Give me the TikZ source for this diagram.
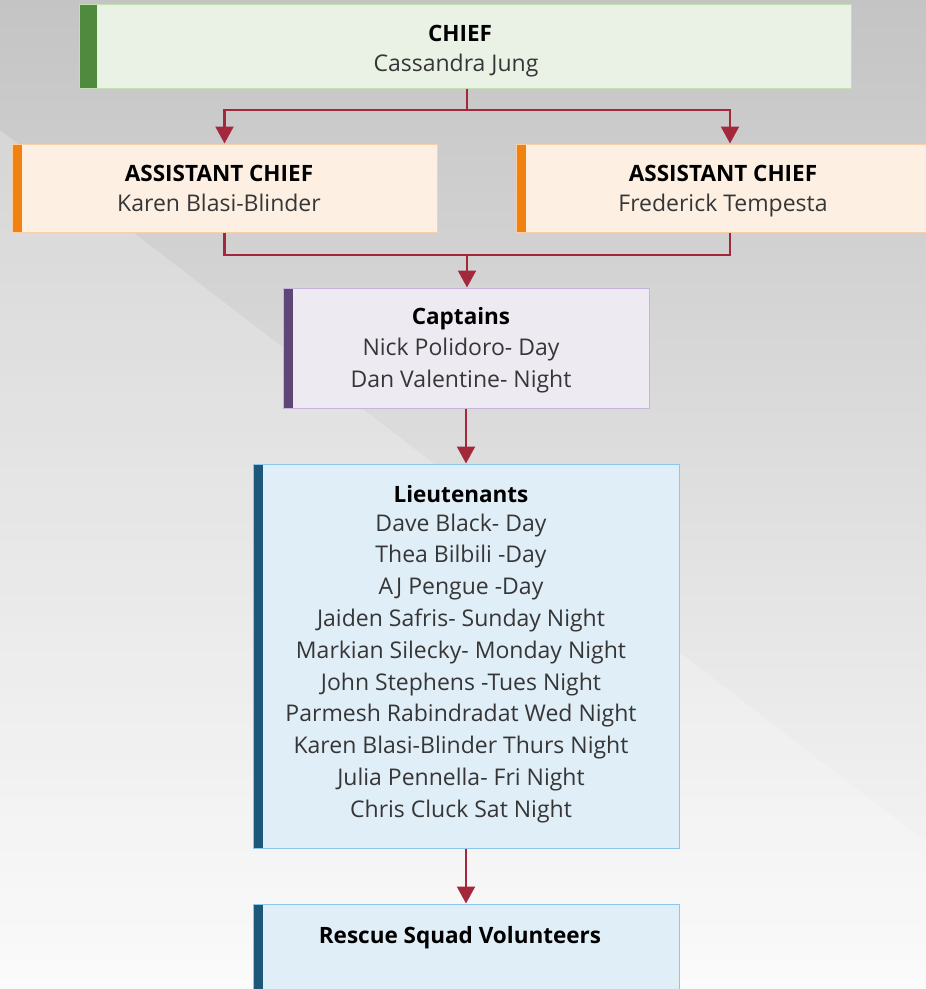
\documentclass[tikz,border=0pt]{standalone}
\usepackage{fontspec}
\setmainfont{Open Sans}
\usetikzlibrary{arrows.meta}
\definecolor{lnred}{HTML}{A3283B}
\definecolor{chieffill}{HTML}{EAF2E6}
\definecolor{chiefdraw}{HTML}{C3DFB0}
\definecolor{chiefbar}{HTML}{4F8A3E}
\definecolor{asfill}{HTML}{FDF0E3}
\definecolor{asdraw}{HTML}{F8CFA8}
\definecolor{asbar}{HTML}{F2820F}
\definecolor{capfill}{HTML}{EEEAF2}
\definecolor{capdraw}{HTML}{C6B4DA}
\definecolor{capbar}{HTML}{5E4676}
\definecolor{ltfill}{HTML}{E0EEF8}
\definecolor{ltdraw}{HTML}{8CC6EC}
\definecolor{ltbar}{HTML}{1D5779}
\definecolor{nametext}{HTML}{363636}
\begin{document}
\begin{tikzpicture}[x=1pt,y=-1pt,
  box/.style={rectangle, draw=#1draw, fill=#1fill, line width=1pt, inner sep=0pt,
    path picture={\fill[#1bar] (path picture bounding box.south west) rectangle ([xshift=10pt]path picture bounding box.north west);}},
  wide/.style={path picture={\fill[#1bar] (path picture bounding box.south west) rectangle ([xshift=18pt]path picture bounding box.north west);}},
  conn/.style={draw=lnred, line width=2.2pt},
  arr/.style={conn, -{Triangle[length=17pt,width=18pt]}},
  ttl/.style={font=\fontsize{22.5}{32}\bfseries\selectfont, text=black, text height=16pt, text depth=6pt},
  nm/.style={font=\fontsize{23}{32}\selectfont, text=nametext, align=center},
  one/.style={text height=16pt, text depth=6pt}
]
\useasboundingbox (0,0) rectangle (926,989);
\shade[top color={rgb,255:red,196;green,196;blue,196}, bottom color={rgb,255:red,250;green,250;blue,250}] (0,0) rectangle (926,989);
\fill[white, opacity=0.22] (0,130) -- (926,842) -- (926,989) -- (0,989) -- cycle;

% Chief
\node[box=chief, wide=chief, minimum width=772pt, minimum height=84pt] (chief) at (465,46) {};
\node[ttl] (chieft) at (460,36) {CHIEF};
\node[nm, one] (chiefn) at (456,66) {Cassandra Jung};

% Assistants
\node[box=as, minimum width=425pt, minimum height=88pt] (asl) at (224.5,188) {};
\node[ttl] (aslt) at (219,176) {ASSISTANT CHIEF};
\node[nm, one] (asln) at (219,206) {Karen Blasi-Blinder};
\node[box=as, minimum width=428pt, minimum height=88pt] (asr) at (730,188) {};
\node[ttl] (asrt) at (723,176) {ASSISTANT CHIEF};
\node[nm, one] (asrn) at (723,206) {Frederick Tempesta};

% Captains
\node[box=cap, minimum width=366pt, minimum height=120pt] (cap) at (466,348) {};
\node[ttl] (capt) at (461,319) {Captains};
\node[nm, anchor=north] (capn) at (461,334) {Nick Polidoro- Day\\Dan Valentine- Night};

% Lieutenants
\node[box=lt, minimum width=426pt, minimum height=384pt] (lt) at (466,656) {};
\node[ttl] (ltt) at (461,497) {Lieutenants};
\node[nm, font=\fontsize{23}{31.8}\selectfont, anchor=north] (ltn) at (461,510) {Dave Black- Day\\Thea Bilbili -Day\\AJ Pengue -Day\\Jaiden Safris- Sunday Night\\Markian Silecky- Monday Night\\John Stephens -Tues Night\\Parmesh Rabindradat Wed Night\\Karen Blasi-Blinder Thurs Night\\Julia Pennella- Fri Night\\Chris Cluck Sat Night};

% Rescue
\node[box=lt, minimum width=426pt, minimum height=120pt] (rs) at (466,964) {};
\node[ttl] (rst) at (460,938) {Rescue Squad Volunteers};

% Connectors
\coordinate (j1) at (467,110);
\coordinate (j2) at (467,255);
\draw[conn] (chief.south -| j1) -- (j1);
\draw[arr] (j1) -| (asl.north);
\draw[arr] (j1) -| (asr.north);
\draw[conn] (asl.south) |- (j2);
\draw[conn] (asr.south) |- (j2);
\draw[arr] (j2) -- (j2 |- cap.north);
\draw[arr] (cap.south) -- (lt.north);
\draw[arr] (lt.south) -- (rs.north);
\end{tikzpicture}
\end{document}
